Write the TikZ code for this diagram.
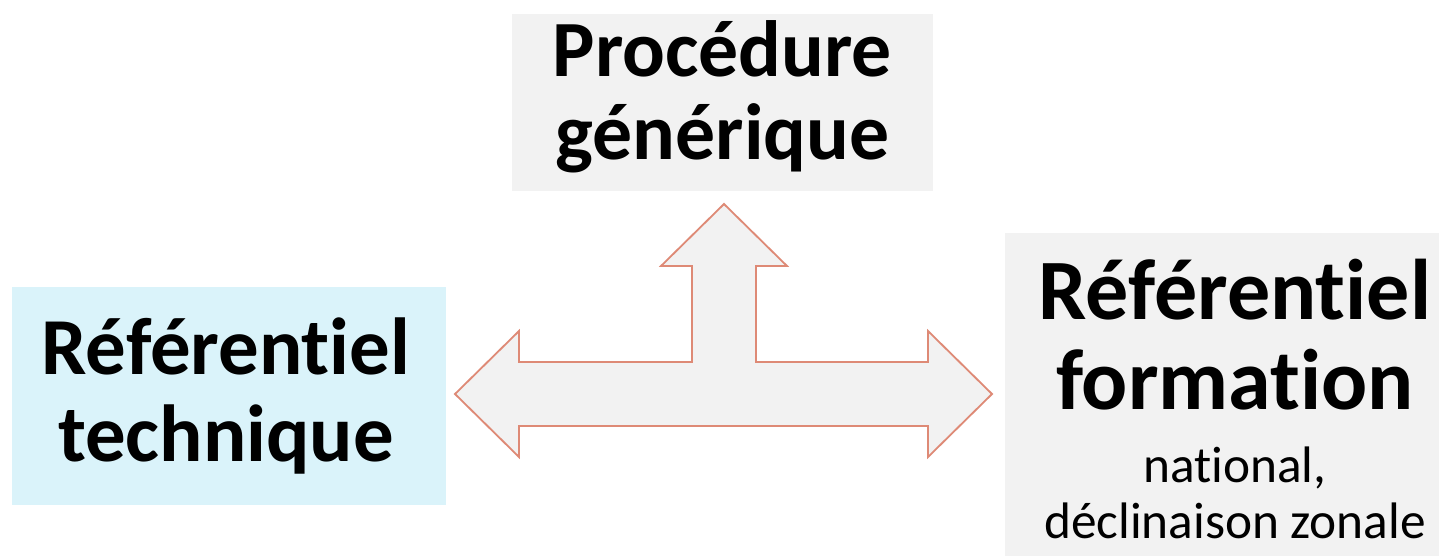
\documentclass[tikz,border=0pt]{standalone}
\usepackage{fontspec}
\setmainfont{Carlito}[Ligatures=NoCommon]
\usetikzlibrary{positioning}
\definecolor{panelgray}{HTML}{F2F2F2}
\definecolor{panelcyan}{HTML}{DAF3FA}
\definecolor{arrowedge}{HTML}{DE8A76}
\tikzset{panel/.style={rectangle,draw=none,inner sep=0pt,fill=panelgray}}
\tikzset{title text/.style={font=\bfseries\fontsize{57.5}{62}\selectfont,align=center,inner sep=0pt}}
\tikzset{note text/.style={font=\fontsize{36.5}{40}\selectfont,align=center,inner sep=0pt}}
\tikzset{hub arrow/.style={draw=arrowedge,fill=panelgray,line width=1.3pt,line join=miter}}

\begin{document}
\begin{tikzpicture}[x=0.025cm,y=-0.025cm]
\useasboundingbox (0,0) rectangle (1439,555);
\clip (0,0) rectangle (1439,555);

% boxes
\node[panel,minimum width=10.525cm,minimum height=4.425cm] (proc) at (722.5,102.5) {};
\node[panel,fill=panelcyan,minimum width=10.85cm,minimum height=5.45cm] (tech) at (229,396) {};
\node[panel,minimum width=11.5cm,minimum height=8.3cm] (form) at (1235,399) {};

% texts
\node[title text,font=\bfseries\fontsize{56.7}{59}\selectfont] (proctxt) at (722.5,97) {Procédure\\générique};
\node[title text] (techtxt) at (226,396) {Référentiel\\technique};
\node[title text,font=\bfseries\fontsize{61.2}{64}\selectfont] (formtxt) at (1235,335) {Référentiel\\formation};
\node[note text,below=0.9cm of formtxt] (formnote) {national,\\déclinaison zonale};

% three-way arrow
\draw[hub arrow] (455,394) -- (519,331) -- (519,362) -- (692,362) -- (692,266)
  -- (661,266) -- (724,204) -- (787,266) -- (756,266) -- (756,362)
  -- (928,362) -- (928,331) -- (992,394) -- (928,457) -- (928,426)
  -- (519,426) -- (519,457) -- cycle;

\end{tikzpicture}
\end{document}
